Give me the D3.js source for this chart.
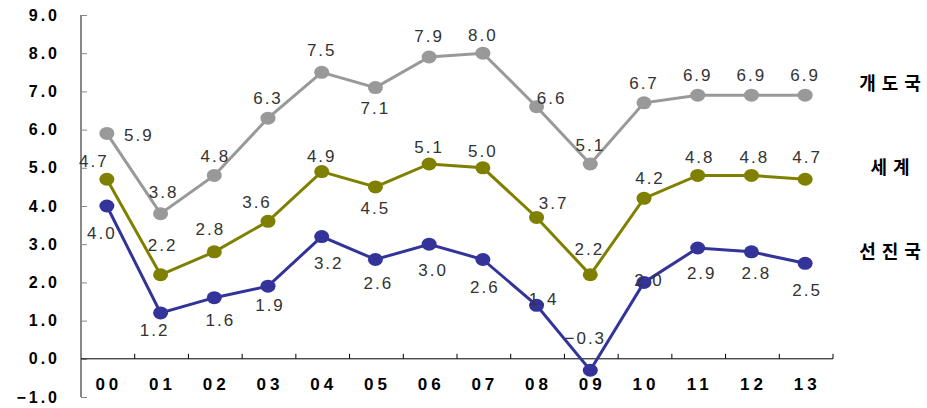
<!DOCTYPE html>
<html>
<head>
<meta charset="utf-8">
<script src="https://cdn.jsdelivr.net/npm/d3@7"></script>
<style>
  body { margin: 0; background: #fff; }
  text { font-family: "Liberation Sans", Arial, sans-serif; }
</style>
</head>
<body>
<script>
  // categories and series
  let years = ["00","01","02","03","04","05","06","07","08","09","10","11","12","13"];
  let developing = [5.9,3.8,4.8,6.3,7.5,7.1,7.9,8.0,6.6,5.1,6.7,6.9,6.9,6.9];
  let world = [4.7,2.2,2.8,3.6,4.9,4.5,5.1,5.0,3.7,2.2,4.2,4.8,4.8,4.7];
  let advanced = [4.0,1.2,1.6,1.9,3.2,2.6,3.0,2.6,1.4,-0.3,2.0,2.9,2.8,2.5];
  let yTicks = [-1,0,1,2,3,4,5,6,7,8,9];

  // label placement (dx, dy from the point), kept apart from the values
  let devPos = [[32,2],[3,-22],[1,-19],[0,-20],[0,-22],[0,20],[0,-21],[0,-18],[15,-9],[0,-19],[0,-20],[0,-20],[0,-20],[0,-20]];
  let worldPos = [[-13,-18],[2,-30],[-4,-23],[-11,-19],[0,-16],[0,21],[0,-17],[0,-17],[17,-14],[-1,-26],[6,-20],[2,-18],[3,-18],[2,-22]];
  let advPos = [[-5,27],[-6,17],[6,22],[2,19],[7,26],[3,24],[4,26],[2,28],[7,-6],[-5,-32],[5,-2],[4,25],[5,21],[2,27]];

  let width = 927;
  let height = 408;
  let padL = 81, padR = 833, padT = 15, padB = 397;

  let x = d3.scaleBand(years, [padL, padR]).padding(0);
  let y = d3.scaleLinear([-1, 9], [padB, padT]);

  let svg = d3.select("body")
    .append("svg")
    .attr("width", width)
    .attr("height", height);

  // y axis
  let yAxis = svg.append("g")
    .attr("transform", "translate(" + padL + ",0)")
    .call(d3.axisLeft(y).tickValues(yTicks).tickSize(-6).tickPadding(21).tickFormat(d3.format(".1f")));
  yAxis.select(".domain").attr("stroke", "#888").attr("stroke-width", 2).attr("d", "M0," + padT + "V" + padB);
  yAxis.selectAll(".tick line").attr("stroke", "#888");
  yAxis.selectAll(".tick text")
    .attr("fill", "#000")
    .style("font-size", "16px")
    .style("font-weight", "bold")
    .style("letter-spacing", "3px");

  // x axis line at zero
  svg.append("line")
    .attr("x1", padL).attr("x2", padR)
    .attr("y1", y(0)).attr("y2", y(0))
    .attr("stroke", "#000");
  svg.selectAll(".xtick")
    .data(years)
    .enter()
    .append("line")
    .attr("x1", d => x(d) + x.bandwidth())
    .attr("x2", d => x(d) + x.bandwidth())
    .attr("y1", y(0))
    .attr("y2", y(0) - 5)
    .attr("stroke", "#000");
  svg.selectAll(".xlab")
    .data(years)
    .enter()
    .append("text")
    .attr("x", d => x(d) + x.bandwidth() / 2 + 1)
    .attr("y", 390)
    .attr("text-anchor", "middle")
    .style("font-size", "17px")
    .style("font-weight", "bold")
    .style("letter-spacing", "4px")
    .text(d => d);

  let series = [
    { name: "개도국", values: developing, color: "#999999", pos: devPos },
    { name: "세계", values: world, color: "#808000", pos: worldPos },
    { name: "선진국", values: advanced, color: "#333399", pos: advPos }
  ];

  let cx = d => x(d) + x.bandwidth() / 2 - 1;
  let line = d3.line()
    .x((d, i) => cx(years[i]))
    .y(d => y(d));

  series.forEach(s => {
    let g = svg.append("g");
    g.append("path")
      .datum(s.values)
      .attr("fill", "none")
      .attr("stroke", s.color)
      .attr("stroke-width", 3)
      .attr("d", line);
    g.selectAll("ellipse")
      .data(s.values)
      .enter()
      .append("ellipse")
      .attr("cx", (d, i) => cx(years[i]))
      .attr("cy", d => y(d))
      .attr("rx", 7.5)
      .attr("ry", 6.5)
      .attr("fill", s.color);
  });

  series.forEach(s => {
    svg.append("g").selectAll("text")
      .data(s.values)
      .enter()
      .append("text")
      .attr("x", (d, i) => cx(years[i]) + s.pos[i][0])
      .attr("y", (d, i) => y(d) + s.pos[i][1] + 6)
      .attr("text-anchor", "middle")
      .attr("fill", "#333")
      .style("font-size", "17px")
      .style("letter-spacing", "2px")
      .text(d => d3.format(".1f")(d));

    // series name at the right
    svg.append("text")
      .attr("x", 893)
      .attr("y", y(s.values[s.values.length - 1]) - 5)
      .attr("text-anchor", "middle")
      .style("font-family", "'Noto Sans CJK KR', sans-serif")
      .style("font-size", "18px")
      .style("font-weight", "bold")
      .style("letter-spacing", "6px")
      .text(s.name);
  });
</script>
</body>
</html>
